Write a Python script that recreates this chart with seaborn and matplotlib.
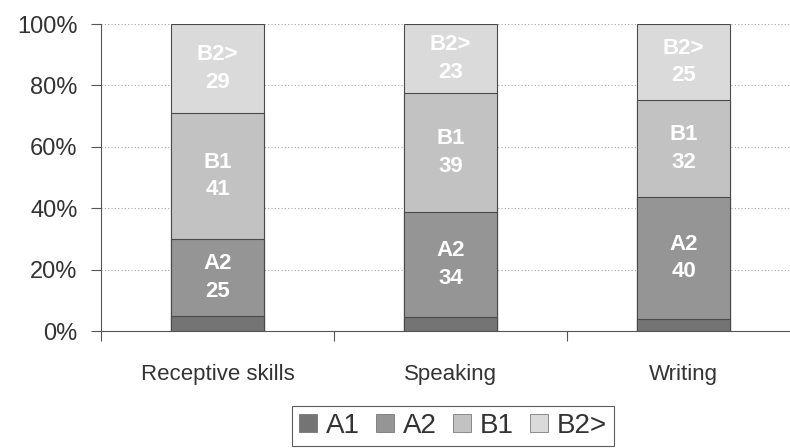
import numpy as np
import pandas as pd
import seaborn as sns
import matplotlib
matplotlib.use('Agg')
import matplotlib.pyplot as plt
from matplotlib.patches import Patch

# values (percent of respondents)
skills = ['Receptive skills', 'Speaking', 'Writing']
levels = ['A1', 'A2', 'B1', 'B2>']
a1 = [4.9, 4.6, 4.0]
a2 = [25.0, 34.2, 39.6]
b1 = [41.1, 38.6, 31.8]
b2 = [29.0, 22.6, 24.6]
colours = ['#747474', '#959595', '#c2c2c2', '#dadada']

sns.set_theme(style='white')
plt.rcParams['font.family'] = ['Liberation Sans', 'DejaVu Sans']

df = pd.DataFrame({'skill': skills, 'A1': a1, 'A2': a2, 'B1': b1, 'B2>': b2})
cum = df[levels].cumsum(axis=1)
cum['skill'] = df['skill']

fig = plt.figure(figsize=(7.9, 4.48), dpi=100)
ax = fig.add_axes([101/790, 1-331/448, 699/790, 307/448])

# draw cumulative totals from the top down so the bars stack
for lev, col in zip(levels[::-1], colours[::-1]):
    sns.barplot(data=cum, x='skill', y=lev, color=col, saturation=1, width=0.4,
                edgecolor='#4a4a4a', linewidth=0.8, ax=ax, zorder=3)

# segment labels
for i in range(len(skills)):
    base = 0
    for lev in levels:
        v = df[lev][i]
        if lev != 'A1':
            ax.text(i, base + v/2, f'{lev}\n{round(v):d}', ha='center', va='center',
                    color='white', fontsize=16, fontweight='bold', linespacing=1.4,
                    zorder=5)
        base += v

ax.set_xlim(-0.5, 2.5)
ax.set_ylim(0, 100)
ax.set_yticks(range(0, 101, 20))
ax.set_yticklabels([f'{t}%' for t in range(0, 101, 20)], fontsize=17, color='#333333')
ax.set_xticks([-0.5, 0.5, 1.5, 2.5])
ax.set_xticklabels([])
ax.set_xticks(range(len(skills)), minor=True)
ax.set_xticklabels(skills, minor=True, fontsize=16, color='#333333')
ax.tick_params(axis='x', which='major', direction='out', length=7, width=0.8,
               color='#555555', bottom=True)
ax.tick_params(axis='x', which='minor', length=0, pad=24)
ax.tick_params(axis='y', direction='out', length=7, width=0.8, color='#555555',
               left=True, pad=10)
ax.set_xlabel('')
ax.set_ylabel('')

ax.yaxis.grid(True, linestyle=(0, (1, 2)), color='#a5a5a5', linewidth=0.8, zorder=0)
ax.set_axisbelow(True)
for s in ['top', 'right']:
    ax.spines[s].set_visible(False)
for s in ['left', 'bottom']:
    ax.spines[s].set_color('#555555')
    ax.spines[s].set_linewidth(0.8)

handles = [Patch(facecolor=c, edgecolor='#666666', linewidth=0.5) for c in colours]
leg = fig.legend(handles, levels, loc='upper center', bbox_to_anchor=(453/790, 1-406/448),
                 ncol=4, fontsize=20, frameon=True, fancybox=False,
                 handlelength=0.65, handleheight=0.65, handletextpad=0.3,
                 columnspacing=0.6, borderpad=0.25, borderaxespad=0)
leg.get_frame().set_edgecolor('#333333')
leg.get_frame().set_linewidth(0.8)
for t in leg.get_texts():
    t.set_color('#333333')

fig.savefig('out.png', dpi=100)
